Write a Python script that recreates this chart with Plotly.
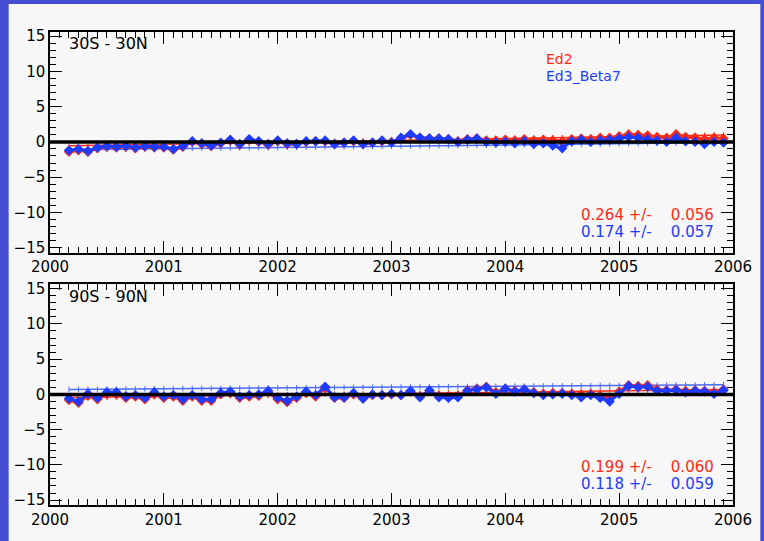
import numpy as np
import plotly.graph_objects as go

# Monthly anomalies, March 2000 - December 2005
n_months = 70
months = 2000 + (2 + np.arange(n_months)) / 12.0

# 30S - 30N
trop_ed2 = [
    -1.4, -1.2, -1.4, -0.9, -0.7, -0.8, -0.7, -0.9, -0.7, -0.8,
    -0.8, -1.1, -0.7, 0.0, -0.3, -0.6, -0.2, 0.2, -0.4, 0.3, 0.0, -0.4,
    0.1, -0.3, -0.3, 0.0, 0.1, 0.1, -0.3, -0.1, 0.1, -0.3, -0.1, 0.1,
    0.0, 0.5, 1.0, 0.6, 0.5, 0.5, 0.4, 0.1, 0.4, 0.5, 0.2, 0.2,
    0.3, 0.2, 0.4, 0.2, 0.3, 0.2, 0.1, 0.4, 0.5, 0.4, 0.6, 0.6,
    0.8, 1.1, 1.0, 0.9, 0.7, 0.6, 1.1, 0.7, 0.6, 0.4, 0.6, 0.5,
]
trop_ed3 = [
    -1.2, -1.0, -1.3, -0.8, -0.6, -0.7, -0.6, -0.8, -0.6, -0.7,
    -0.7, -1.0, -0.6, 0.1, -0.2, -0.5, -0.1, 0.3, -0.3, 0.4, 0.1, -0.3,
    0.2, -0.2, -0.3, 0.1, 0.1, 0.2, -0.3, -0.1, 0.2, -0.3, -0.1, 0.2,
    -0.1, 0.6, 1.1, 0.6, 0.5, 0.5, 0.4, 0.0, 0.3, 0.5, 0.0, -0.1,
    0.0, -0.2, 0.1, -0.3, -0.2, -0.5, -0.9, 0.1, 0.3, 0.0, 0.2, 0.3,
    0.5, 0.7, 0.6, 0.4, 0.2, 0.0, 0.6, 0.1, 0.0, -0.3, 0.0, -0.1,
]

# 90S - 90N
glob_ed2 = [
    -0.8, -1.2, -0.2, -0.7, 0.0, 0.0, -0.5, -0.3, -0.7, 0.0,
    -0.5, -0.3, -0.9, -0.3, -0.9, -0.9, 0.0, 0.2, -0.5, -0.3, -0.2, 0.3,
    -0.7, -1.1, -0.5, 0.2, -0.3, 0.9, -0.5, -0.5, 0.0, -0.6, -0.1, -0.1,
    0.0, -0.1, 0.4, -0.3, 0.5, -0.2, -0.3, -0.2, 0.6, 0.8, 1.1, 0.3,
    0.8, 0.5, 0.7, 0.3, 0.1, 0.2, 0.2, 0.1, 0.0, 0.1, -0.2, -0.5,
    0.4, 1.3, 1.2, 1.3, 0.7, 0.6, 0.7, 0.5, 0.6, 0.5, 0.3, 0.7,
]
glob_ed3 = [
    -0.6, -1.0, 0.1, -0.5, 0.3, 0.3, -0.3, -0.1, -0.5, 0.3,
    -0.3, -0.1, -0.7, -0.1, -0.7, -0.7, 0.2, 0.4, -0.3, -0.1, 0.0, 0.5,
    -0.5, -0.9, -0.3, 0.4, -0.1, 1.1, -0.4, -0.4, 0.2, -0.6, 0.0, -0.1,
    0.1, -0.1, 0.5, -0.4, 0.6, -0.4, -0.5, -0.4, 0.5, 0.7, 1.0, 0.1,
    0.8, 0.4, 0.7, 0.2, -0.1, 0.0, 0.1, -0.1, -0.4, -0.1, -0.5, -1.0,
    0.1, 1.2, 1.0, 1.1, 0.5, 0.5, 0.6, 0.3, 0.5, 0.4, 0.1, 0.6,
]

# Linear trends (per year) with their uncertainties, and trend-line start values
trop_slopes = {"Ed2": (0.264, 0.056), "Ed3_Beta7": (0.174, 0.057)}
glob_slopes = {"Ed2": (0.199, 0.060), "Ed3_Beta7": (0.118, 0.059)}
trop_trend_start = {"Ed2": -0.55, "Ed3_Beta7": -1.1}
glob_trend_start = {"Ed2": -0.45, "Ed3_Beta7": 0.7}

panel_titles = ["30S - 30N", "90S - 90N"]
x_ticks = [2000, 2001, 2002, 2003, 2004, 2005, 2006]

RED = "#ff2a14"
BLUE = "#1e3cff"
BLUE_THIN = "#4a6cff"
GRAY = "#f7f7f7"
BORDER = "#464fd4"
FONT = "DejaVu Sans"

fig = go.Figure()

panels = [
    ("x", "y", trop_ed2, trop_ed3, trop_slopes, trop_trend_start),
    ("x2", "y2", glob_ed2, glob_ed3, glob_slopes, glob_trend_start),
]

for xa, ya, ed2, ed3, slopes, starts in panels:
    x = months
    for name, col in [("Ed2", RED), ("Ed3_Beta7", BLUE_THIN)]:
        slope = slopes[name][0]
        trend = starts[name] + slope * (x - x[0])
        fig.add_trace(go.Scatter(
            x=x, y=trend, xaxis=xa, yaxis=ya, mode="lines+markers",
            line=dict(color=col, width=1.5),
            marker=dict(symbol="line-ns", size=4, line=dict(color=col, width=1)),
            showlegend=False, hoverinfo="skip"))
    for name, vals, col in [("Ed2", ed2, RED), ("Ed3_Beta7", ed3, BLUE)]:
        fig.add_trace(go.Scatter(
            x=x, y=vals, xaxis=xa, yaxis=ya, mode="lines+markers", name=name,
            line=dict(color=col, width=3),
            marker=dict(symbol="diamond", size=8, color=col),
            showlegend=False))

axis_common = dict(
    showgrid=False, zeroline=False, showline=True, linecolor="black", linewidth=1.5,
    mirror="allticks", ticks="inside", ticklen=12, tickwidth=1.2, tickcolor="black",
    tickfont=dict(family=FONT, size=15, color="black"),
)

x_common = dict(axis_common, range=[2000, 2006], tickmode="array", tickvals=x_ticks,
                ticktext=[str(t) for t in x_ticks],
                minor=dict(ticks="inside", ticklen=6, dtick=1 / 12, tick0=2000,
                           tickcolor="black", tickwidth=1))
y_common = dict(axis_common, range=[-15.7, 15.6], tickmode="linear", tick0=0, dtick=5,
                minor=dict(ticks="inside", ticklen=6, dtick=1, tick0=0,
                           tickcolor="black", tickwidth=1))

fig.update_layout(
    width=764, height=541,
    margin=dict(l=50, r=20, t=32, b=35),
    paper_bgcolor=BORDER, plot_bgcolor=GRAY,
    xaxis=dict(x_common, anchor="y", domain=[0, 1]),
    yaxis=dict(y_common, anchor="x", domain=[0.5338, 1]),
    xaxis2=dict(x_common, anchor="y2", domain=[0, 1]),
    yaxis2=dict(y_common, anchor="x2", domain=[0, 0.4662]),
    font=dict(family=FONT, color="black"),
)

# light page area inset from the coloured frame
fig.add_shape(type="rect", xref="paper", yref="paper",
              x0=-0.0605, x1=1.04, y0=-0.08, y1=1.0591,
              fillcolor=GRAY, line=dict(width=0), layer="below")

# zero reference lines
for ya, xa in [("y", "x"), ("y2", "x2")]:
    fig.add_shape(type="line", xref=f"{xa} domain", yref=ya, x0=0, x1=1, y0=0, y1=0,
                  line=dict(color="black", width=3.5), layer="above")

annotations = []
for i, (xa, ya, title_y) in enumerate([("x", "y", 0.95), ("x2", "y2", 0.947)]):
    annotations.append(dict(text=panel_titles[i], xref=f"{xa} domain", yref=f"{ya} domain",
                            x=0.0245, y=title_y, xanchor="left", yanchor="middle",
                            showarrow=False, font=dict(family=FONT, size=16, color="black")))

annotations.append(dict(text="Ed2", xref="x domain", yref="y domain", x=0.724, y=0.878,
                        xanchor="left", yanchor="middle", showarrow=False,
                        font=dict(family=FONT, size=14, color=RED)))
annotations.append(dict(text="Ed3_Beta7", xref="x domain", yref="y domain", x=0.724, y=0.80,
                        xanchor="left", yanchor="middle", showarrow=False,
                        font=dict(family=FONT, size=14, color=BLUE)))

for xa, ya, slopes, ys in [("x", "y", trop_slopes, (0.170, 0.092)),
                            ("x2", "y2", glob_slopes, (0.172, 0.094))]:
    for (name, col), yy in zip([("Ed2", RED), ("Ed3_Beta7", BLUE)], ys):
        s, e = slopes[name]
        annotations.append(dict(
            text=f"{s:.3f}\u00a0+/-\u00a0\u00a0\u00a0\u00a0{e:.3f}", xref=f"{xa} domain",
            yref=f"{ya} domain", x=0.975, y=yy, xanchor="right", yanchor="middle",
            showarrow=False, font=dict(family=FONT, size=15, color=col)))

fig.update_layout(annotations=annotations)

fig.write_html("out.html")
